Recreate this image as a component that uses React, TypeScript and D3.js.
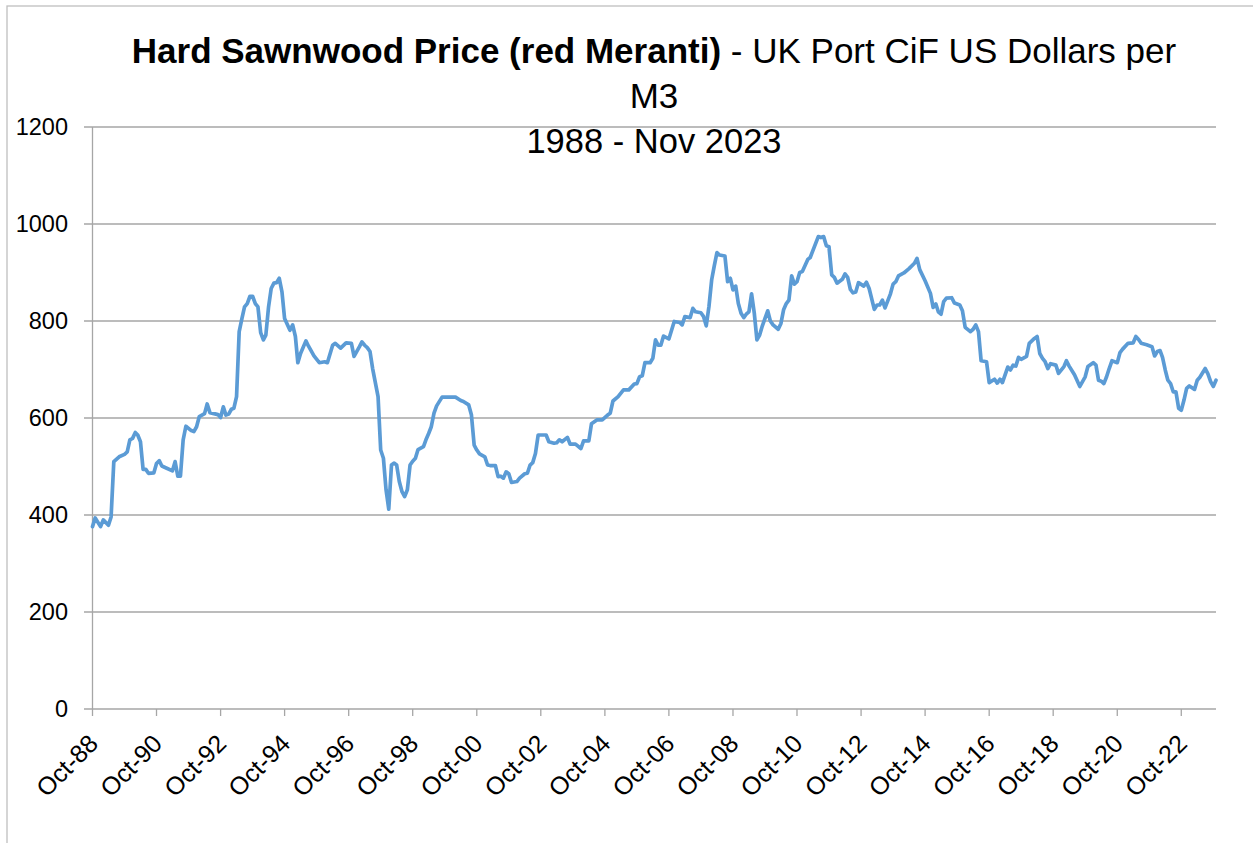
import React from "react";
import * as d3 from "d3";

// Months elapsed since Oct 1988 for each observation
const monthOffsets: number[] = [
  0, 1, 3, 4, 6, 7, 8, 10, 12, 13, 14, 15, 16, 17, 18, 19, 20, 21, 23, 24, 25, 26, 28, 30, 31, 32, 33, 34, 35, 37,
  38, 39, 40, 42, 43, 44, 47, 48, 49, 50, 51, 52, 53, 54, 55, 56, 57, 58, 59, 60, 61, 62, 63, 64, 65, 66, 67, 68, 69, 70,
  71, 72, 74, 75, 76, 77, 78, 80, 81, 83, 85, 87, 88, 90, 91, 93, 95, 97, 98, 100, 101, 102, 103, 104, 105, 107, 108, 109, 110, 111,
  112, 113, 114, 115, 116, 117, 118, 119, 120, 121, 122, 124, 125, 126, 127, 128, 129, 131, 136, 138, 139, 141, 142, 143, 144, 145, 147, 148, 149, 151,
  152, 153, 154, 155, 156, 157, 159, 160, 162, 163, 164, 165, 166, 167, 170, 171, 173, 174, 175, 176, 178, 179, 181, 183, 184, 186, 187, 189, 191, 193,
  194, 195, 197, 199, 201, 203, 204, 205, 206, 207, 209, 210, 211, 212, 213, 214, 216, 218, 220, 221, 222, 224, 225, 226, 228, 229, 230, 231, 232, 233,
  234, 235, 237, 238, 239, 240, 241, 242, 243, 244, 245, 246, 247, 248, 249, 250, 251, 253, 254, 255, 257, 258, 259, 260, 261, 262, 263, 264, 265, 266,
  268, 269, 272, 273, 274, 275, 276, 277, 278, 279, 281, 282, 283, 284, 285, 286, 287, 289, 290, 291, 293, 294, 295, 296, 297, 299, 300, 301, 302, 304,
  306, 308, 309, 310, 312, 314, 315, 316, 317, 318, 319, 320, 322, 323, 325, 326, 327, 329, 330, 331, 332, 333, 335, 336, 338, 339, 340, 341, 343, 344,
  345, 346, 347, 348, 350, 351, 353, 354, 355, 356, 357, 358, 359, 361, 362, 364, 365, 366, 368, 370, 372, 373, 375, 376, 377, 378, 379, 380, 381, 382,
  384, 385, 386, 388, 390, 391, 392, 393, 395, 397, 398, 399, 400, 401, 402, 403, 404, 405, 406, 407, 408, 409, 410, 411, 413, 414, 415, 417, 418, 419,
  420, 421,
];

// US$ per m3
const prices: number[] = [
  376, 394, 376, 390, 379, 396, 510, 520, 525, 530, 555, 558, 570, 565, 551, 494, 494, 486, 487, 506, 512, 501, 496, 491, 510, 480, 480, 555, 583, 574,
  572, 582, 603, 609, 629, 611, 607, 601, 623, 606, 608, 618, 620, 644, 778, 805, 829, 836, 851, 851, 836, 829, 776, 761, 771, 829, 867, 878, 879, 888,
  860, 805, 781, 792, 768, 714, 733, 759, 748, 728, 714, 716, 714, 750, 754, 744, 755, 754, 727, 747, 757, 750, 745, 737, 702, 644, 534, 517, 452, 412,
  503, 507, 503, 469, 448, 438, 452, 503, 511, 517, 535, 541, 555, 568, 582, 610, 625, 643, 643, 636, 634, 627, 606, 544, 534, 526, 520, 503, 502, 502,
  479, 480, 476, 489, 485, 467, 469, 476, 485, 486, 503, 508, 527, 565, 565, 551, 548, 549, 555, 551, 560, 546, 546, 537, 553, 553, 588, 596, 596, 606,
  610, 635, 644, 658, 658, 670, 671, 685, 687, 714, 714, 723, 761, 750, 750, 769, 763, 799, 797, 792, 809, 807, 826, 819, 817, 809, 790, 830, 885, 913,
  941, 936, 934, 881, 888, 864, 872, 836, 816, 807, 814, 819, 856, 816, 761, 771, 790, 821, 800, 792, 783, 795, 823, 836, 843, 893, 876, 881, 900, 902,
  927, 931, 974, 972, 974, 955, 953, 895, 890, 878, 886, 897, 890, 865, 858, 860, 879, 872, 880, 867, 824, 833, 833, 843, 827, 856, 876, 881, 893, 899,
  908, 919, 929, 906, 883, 857, 828, 835, 819, 814, 840, 847, 848, 837, 833, 821, 787, 778, 783, 792, 778, 718, 716, 673, 680, 672, 680, 673, 705, 699,
  709, 707, 725, 721, 727, 754, 764, 768, 733, 723, 716, 702, 712, 709, 692, 706, 718, 707, 689, 665, 685, 706, 714, 709, 678, 676, 671, 685, 702, 718,
  714, 735, 742, 754, 755, 768, 762, 754, 751, 747, 728, 737, 739, 725, 699, 678, 671, 654, 654, 620, 616, 637, 661, 666, 659, 678, 684, 702, 691, 675,
  665, 678,
];

const startMonth = new Date(1988, 9, 1);
const endMonth = new Date(2023, 10, 1);
const yTicks: number[] = [0, 200, 400, 600, 800, 1000, 1200];
const xTickStepMonths = 24;
const titleBold = "Hard Sawnwood Price (red Meranti)";
const titleRest = " - UK Port CiF US Dollars per";
const titleLine2 = "M3";
const titleLine3 = "1988 - Nov 2023";

const W = 1253;
const H = 843;
const FONT = "'Liberation Sans', Arial, sans-serif";

export default function App() {
  const left = 92.5;
  const right = 1216;
  const top = 127;
  const bottom = 709;

  const x = d3.scaleTime().domain([startMonth, endMonth]).range([left, right]);
  const y = d3.scaleLinear().domain([0, 1200]).range([bottom, top]);

  const data = monthOffsets.map((m, i) => ({
    date: d3.timeMonth.offset(startMonth, m),
    value: prices[i],
  }));

  const line = d3
    .line<{ date: Date; value: number }>()
    .x((d) => x(d.date))
    .y((d) => y(d.value));

  const xTicks: Date[] = [];
  for (let k = 0; ; k++) {
    const d = d3.timeMonth.offset(startMonth, k * xTickStepMonths);
    if (d > endMonth) break;
    xTicks.push(d);
  }
  const fmt = d3.timeFormat("%b-%y");
  const grid = "#a6a6a6";

  return (
    <svg
      width={W}
      height={H}
      style={{ position: "absolute", left: 0, top: 0, background: "#fff" }}
      fontFamily={FONT}
    >
      <rect x={7} y={6} width={1270} height={860} fill="#fff" stroke="#bfbfbf" strokeWidth={1.3} />

      {/* title */}
      <text x={654} y={63} textAnchor="middle" fontSize={35} fill="#000" style={{ whiteSpace: "pre" }}>
        <tspan fontWeight="bold">{titleBold}</tspan>
        <tspan>{titleRest}</tspan>
      </text>
      <text x={654} y={108} textAnchor="middle" fontSize={35} fill="#000">
        {titleLine2}
      </text>
      <text x={654} y={153} textAnchor="middle" fontSize={34.5} fill="#000">
        {titleLine3}
      </text>

      {/* gridlines + y axis labels */}
      {yTicks.map((t) => (
        <g key={t}>
          <line x1={84} x2={right} y1={y(t)} y2={y(t)} stroke={grid} strokeWidth={1.3} />
          <text x={68} y={y(t)} dy="0.35em" textAnchor="end" fontSize={23.5} fill="#000">
            {t}
          </text>
        </g>
      ))}
      <line x1={left} x2={left} y1={top} y2={bottom} stroke={grid} strokeWidth={1.3} />

      {/* x axis ticks and labels */}
      {xTicks.map((d, i) => (
        <g key={i}>
          <line x1={x(d)} x2={x(d)} y1={bottom} y2={bottom + 7} stroke={grid} strokeWidth={1.3} />
          <text
            transform={`translate(${x(d) + 1},${bottom + 30}) rotate(-45)`}
            dy="0.35em"
            textAnchor="end"
            fontSize={25}
            fill="#000"
          >
            {fmt(d)}
          </text>
        </g>
      ))}

      <path d={line(data) || ""} fill="none" stroke="#5b9bd5" strokeWidth={3.7} strokeLinejoin="round" strokeLinecap="round" />
    </svg>
  );
}
